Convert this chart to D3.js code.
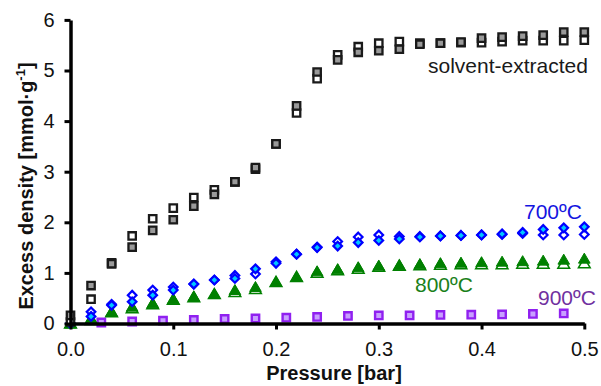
<!DOCTYPE html>
<html>
<head>
<meta charset="utf-8">
<script src="https://cdn.jsdelivr.net/npm/d3@7"></script>
<style>
  body { margin: 0; background: #fff; }
  svg { display: block; font-family: Arial, "Liberation Sans", sans-serif; }
</style>
</head>
<body>
<svg id="chart" width="601" height="386"></svg>
<script>
// ---- data ----
const pressure = [0, 0.02, 0.04, 0.06, 0.08, 0.10, 0.12, 0.14, 0.16, 0.18, 0.20, 0.22, 0.24,
  0.26, 0.28, 0.30, 0.32, 0.34, 0.36, 0.38, 0.40, 0.42, 0.44, 0.46, 0.48, 0.50];
const pressure900 = [0.03, 0.06, 0.09, 0.12, 0.15, 0.18, 0.21, 0.24, 0.27, 0.30, 0.33, 0.36,
  0.39, 0.42, 0.45, 0.48];

const solventFilled = [0.16, 0.75, 1.18, 1.51, 1.84, 2.05, 2.32, 2.55, 2.80, 3.08, 3.55, 4.30, 4.97,
  5.21, 5.36, 5.39, 5.42, 5.52, 5.54, 5.56, 5.64, 5.66, 5.68, 5.70, 5.76, 5.76];
const solventOpen = [0.03, 0.48, 1.20, 1.73, 2.07, 2.28, 2.49, 2.64, 2.80, 3.05, 3.55, 4.16, 4.84,
  5.31, 5.47, 5.54, 5.57, 5.54, 5.54, 5.55, 5.55, 5.57, 5.59, 5.59, 5.59, 5.60];

const t700Filled = [0, 0.14, 0.36, 0.43, 0.56, 0.66, 0.78, 0.86, 0.89, 1.08, 1.19, 1.37, 1.50,
  1.53, 1.60, 1.64, 1.67, 1.71, 1.73, 1.74, 1.75, 1.77, 1.80, 1.86, 1.89, 1.91];
const t700Open = [0, 0.23, 0.38, 0.56, 0.66, 0.72, 0.78, 0.86, 0.95, 0.98, 1.22, 1.37, 1.51,
  1.62, 1.71, 1.75, 1.72, 1.72, 1.73, 1.74, 1.75, 1.76, 1.78, 1.75, 1.75, 1.76];

const t800Filled = [0, 0.10, 0.23, 0.33, 0.40, 0.48, 0.53, 0.58, 0.66, 0.72, 0.82, 0.92, 1.03,
  1.07, 1.11, 1.14, 1.15, 1.17, 1.19, 1.20, 1.21, 1.22, 1.23, 1.24, 1.26, 1.28];
const t800Open = [0, 0.07, 0.22, 0.30, 0.38, 0.47, 0.52, 0.58, 0.62, 0.68, 0.82, 0.92, 1.00,
  1.05, 1.08, 1.12, 1.14, 1.15, 1.16, 1.17, 1.17, 1.17, 1.18, 1.18, 1.18, 1.19];

const t900 = [0.02, 0.04, 0.055, 0.07, 0.09, 0.10, 0.115, 0.13, 0.15, 0.16, 0.16, 0.17,
  0.175, 0.18, 0.19, 0.20];

const xTicks = [0, 0.1, 0.2, 0.3, 0.4, 0.5];
const yTicks = [0, 1, 2, 3, 4, 5, 6];

// ---- layout ----
const svg = d3.select("#chart");
const x = d3.scaleLinear().domain([0, 0.5]).range([70.5, 584.3]);
const y = d3.scaleLinear().domain([0, 6]).range([323.5, 19.9]);

function zip(xs, ys) { return ys.map((v, i) => [xs[i], v]); }

const sq = "M-3.7,-3.7H3.7V3.7H-3.7Z";
const dia = "M0,-4.3L4.3,0L0,4.3L-4.3,0Z";
const tri = "M0,-5.6L5.8,4.4L-5.8,4.4Z";

function drawSeries(pts, path, fill, stroke, sw) {
  svg.append("g").selectAll("path").data(pts).join("path")
    .attr("d", path)
    .attr("transform", d => `translate(${x(d[0])},${y(d[1])})`)
    .attr("fill", fill)
    .attr("stroke", stroke)
    .attr("stroke-width", sw)
    .attr("stroke-linejoin", "miter");
}

// ---- markers ----
drawSeries(zip(pressure900, t900), sq, "#c8a0ff", "#9020f0", 2.4);
drawSeries(zip(pressure, t800Open), tri, "#ffffff", "#008000", 1.6);
drawSeries(zip(pressure, t800Filled), tri, "#008000", "#008000", 1);
drawSeries(zip(pressure, t700Open), dia, "#ffffff", "#0000ff", 2.2);
drawSeries(zip(pressure, t700Filled), dia, "#00c8ff", "#0000ff", 2.2);
drawSeries(zip(pressure, solventOpen), sq, "#ffffff", "#1a1a1a", 2.3);
drawSeries(zip(pressure, solventFilled), sq, "#9a9a9a", "#1a1a1a", 2.3);

// ---- axes ----
const xAxis = svg.append("g").attr("transform", `translate(0,${y(0)})`)
  .call(d3.axisBottom(x).tickValues(xTicks).tickFormat(d3.format(".1f"))
    .tickSize(6).tickSizeOuter(0).tickPadding(12));
const yAxis = svg.append("g").attr("transform", `translate(${x(0)},0)`)
  .call(d3.axisLeft(y).tickValues(yTicks).tickFormat(d3.format("d"))
    .tickSize(6).tickSizeOuter(0).tickPadding(10));

[xAxis, yAxis].forEach(g => {
  g.select(".domain").attr("stroke", "#000").attr("stroke-width", 3.5);
  g.selectAll(".tick line").attr("stroke", "#000").attr("stroke-width", 3);
  g.selectAll(".tick text").attr("fill", "#111").style("font-size", "20px")
    .style("font-family", "Arial, 'Liberation Sans', sans-serif");
});

// ---- titles ----
svg.append("text")
  .attr("x", 334).attr("y", 380)
  .attr("text-anchor", "middle")
  .style("font-size", "20px").style("font-weight", "bold").attr("fill", "#111")
  .text("Pressure [bar]");

const yt = svg.append("text")
  .attr("transform", "translate(33,186) rotate(-90)")
  .attr("text-anchor", "middle")
  .style("font-size", "20px").style("font-weight", "bold").attr("fill", "#111");
yt.append("tspan").text("Excess density [mmol·g");
yt.append("tspan").attr("dy", -8).style("font-size", "13px").text("-1");
yt.append("tspan").attr("dy", 8).text("]");

// ---- series labels ----
const labels = [
  { t: "solvent-extracted", x: 428, y: 73, c: "#1a1a1a" },
  { t: "700ºC", x: 524, y: 219, c: "#1414e0" },
  { t: "800ºC", x: 415, y: 292, c: "#1a801a" },
  { t: "900ºC", x: 538, y: 305, c: "#7030a0" }
];
svg.append("g").selectAll("text").data(labels).join("text")
  .attr("x", d => d.x).attr("y", d => d.y)
  .attr("fill", d => d.c)
  .style("font-size", "21px")
  .text(d => d.t);
</script>
</body>
</html>
